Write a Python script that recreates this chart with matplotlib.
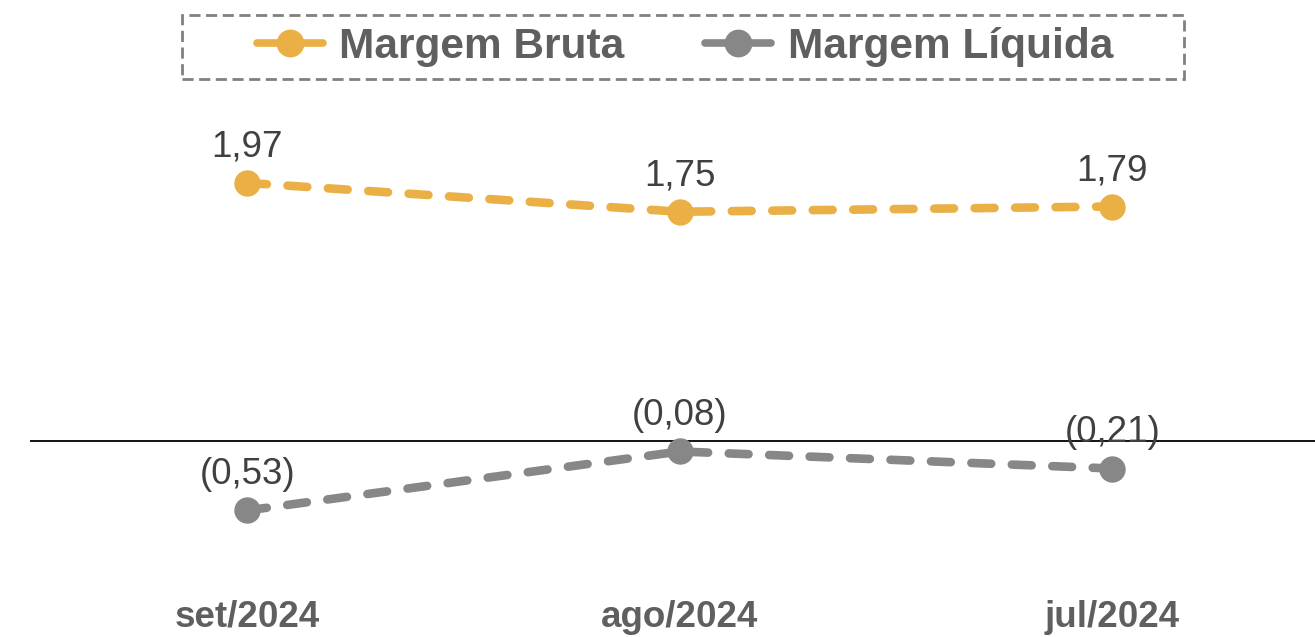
import matplotlib.pyplot as plt
import matplotlib.patches as mpatches

plt.rcParams['font.family'] = ['Liberation Sans', 'DejaVu Sans']

meses = ["set/2024", "ago/2024", "jul/2024"]
margem_bruta = [1.97, 1.75, 1.79]
margem_liquida = [-0.53, -0.08, -0.21]

laranja = "#EBB045"
cinza = "#878787"

def rotulo(v):
    s = f"{abs(v):.2f}".replace(".", ",")
    return f"({s})" if v < 0 else s

W, H = 1315, 637
fig = plt.figure(figsize=(W / 100, H / 100), dpi=100)
ax = fig.add_axes([30 / W, 0, (W - 30) / W, 1])
x = list(range(len(meses)))

estilo = dict(linestyle=(0, (2.3, 2.4)), linewidth=6.2, dash_capstyle='round',
              marker='o', markersize=18)
l1, = ax.plot(x, margem_bruta, color=laranja, label='Margem Bruta', **estilo)
l2, = ax.plot(x, margem_liquida, color=cinza, label='Margem Líquida', **estilo)

ax.axhline(0, color='black', linewidth=1.3, zorder=0)

for serie in (margem_bruta, margem_liquida):
    for xi, v in zip(x, serie):
        ax.annotate(rotulo(v), (xi, v), xytext=(0, 13), textcoords='offset points',
                    ha='center', va='bottom', fontsize=26.5, color='#404040')

for xi, m in zip(x, meses):
    ax.text(xi, 0.031, m, transform=ax.get_xaxis_transform(), ha='center',
            va='center', fontsize=26.5, fontweight='bold', color='#5f5f5f')

ax.set_xlim(-0.502, 2.469)
ax.set_ylim((441 - H) / 131, 441 / 131)
ax.axis('off')

# legenda sem moldura + caixa tracejada desenhada à parte
h1 = plt.Line2D([], [], color=laranja, linewidth=5.5, marker='o', markersize=19,
                solid_capstyle='round')
h2 = plt.Line2D([], [], color=cinza, linewidth=5.5, marker='o', markersize=19,
                solid_capstyle='round')
leg = fig.legend(handles=[h1, h2], labels=['Margem Bruta', 'Margem Líquida'],
                 loc='center', bbox_to_anchor=(685 / W, 1 - 47 / H), ncol=2,
                 frameon=False, prop={'weight': 'bold', 'size': 30.5},
                 handlelength=1.55, columnspacing=1.9, handletextpad=0.4)
for t in leg.get_texts():
    t.set_color('#5f5f5f')

caixa = mpatches.Rectangle((182 / W, 1 - 79 / H), (1184 - 182) / W, 64 / H,
                           transform=fig.transFigure, fill=False,
                           edgecolor='#808080', linewidth=2,
                           linestyle=(0, (4, 2)))
fig.patches.append(caixa)

fig.savefig('out.png', dpi=100)
